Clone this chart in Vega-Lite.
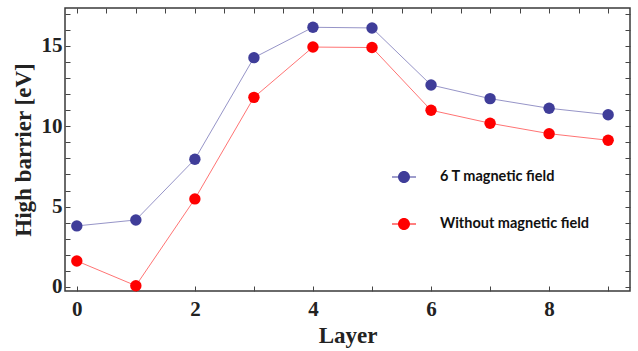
{
  "$schema": "https://vega.github.io/schema/vega-lite/v6.json",
  "width": 565,
  "height": 283,
  "autosize": "none",
  "padding": {"left": 65, "top": 8, "right": 8, "bottom": 60},
  "background": "white",
  "config": {
    "view": {"stroke": "#3a3a3a", "strokeWidth": 1.5},
    "axis": {"grid": false}
  },
  "data": {
    "values": [
      {"layer": 0, "barrier": 3.8, "series": "6 T magnetic field"},
      {"layer": 1, "barrier": 4.17, "series": "6 T magnetic field"},
      {"layer": 2, "barrier": 7.95, "series": "6 T magnetic field"},
      {"layer": 3, "barrier": 14.27, "series": "6 T magnetic field"},
      {"layer": 4, "barrier": 16.16, "series": "6 T magnetic field"},
      {"layer": 5, "barrier": 16.12, "series": "6 T magnetic field"},
      {"layer": 6, "barrier": 12.57, "series": "6 T magnetic field"},
      {"layer": 7, "barrier": 11.72, "series": "6 T magnetic field"},
      {"layer": 8, "barrier": 11.12, "series": "6 T magnetic field"},
      {"layer": 9, "barrier": 10.72, "series": "6 T magnetic field"},
      {"layer": 0, "barrier": 1.62, "series": "Without magnetic field"},
      {"layer": 1, "barrier": 0.08, "series": "Without magnetic field"},
      {"layer": 2, "barrier": 5.48, "series": "Without magnetic field"},
      {"layer": 3, "barrier": 11.8, "series": "Without magnetic field"},
      {"layer": 4, "barrier": 14.93, "series": "Without magnetic field"},
      {"layer": 5, "barrier": 14.9, "series": "Without magnetic field"},
      {"layer": 6, "barrier": 11.0, "series": "Without magnetic field"},
      {"layer": 7, "barrier": 10.19, "series": "Without magnetic field"},
      {"layer": 8, "barrier": 9.54, "series": "Without magnetic field"},
      {"layer": 9, "barrier": 9.13, "series": "Without magnetic field"}
    ]
  },
  "layer": [
    {
      "mark": {"type": "line", "strokeWidth": 1, "opacity": 0.55},
      "encoding": {
        "x": {
          "field": "layer", "type": "quantitative",
          "scale": {"domain": [-0.2, 9.37], "nice": false, "zero": false},
          "axis": {
            "orient": "bottom", "format": "d", "offset": -5,
            "values": [0, 0.5, 1, 1.5, 2, 2.5, 3, 3.5, 4, 4.5, 5, 5.5, 6, 6.5, 7, 7.5, 8, 8.5, 9],
            "labelExpr": "datum.value % 2 === 0 ? datum.label : ''",
            "ticks": true, "tickSize": 5, "tickWidth": 1, "tickColor": "#444", "domain": false,
            "title": "Layer", "titleFont": "Liberation Serif", "titleFontSize": 23, "titleFontWeight": "bold",
            "titleColor": "#222", "titlePadding": 5,
            "labelFont": "Liberation Serif", "labelFontSize": 21, "labelFontWeight": "bold", "labelColor": "#222",
            "labelPadding": 7
          }
        },
        "y": {
          "field": "barrier", "type": "quantitative",
          "scale": {"domain": [-0.25, 17.36], "nice": false, "zero": false},
          "axis": {
            "orient": "left", "format": "d", "offset": -5,
            "values": [0, 1, 2, 3, 4, 5, 6, 7, 8, 9, 10, 11, 12, 13, 14, 15, 16, 17],
            "labelExpr": "datum.value % 5 === 0 ? datum.label : ''",
            "ticks": true, "tickSize": 5, "tickWidth": 1, "tickColor": "#444", "domain": false,
            "title": "High barrier [eV]", "titleFont": "Liberation Serif", "titleFontSize": 23, "titleFontWeight": "bold",
            "titleColor": "#222", "titlePadding": 6,
            "labelFont": "Liberation Serif", "labelFontSize": 21, "labelFontWeight": "bold", "labelColor": "#222",
            "labelPadding": 3
          }
        },
        "stroke": {
          "field": "series", "type": "nominal",
          "scale": {"domain": ["Without magnetic field", "6 T magnetic field"], "range": ["#ff0000", "#3f3d99"]},
          "legend": null
        }
      }
    },
    {
      "mark": {"type": "point", "filled": true, "size": 130, "opacity": 1},
      "encoding": {
        "x": {
          "field": "layer", "type": "quantitative",
          "axis": {
            "orient": "top", "offset": -5, "values": [0, 0.5, 1, 1.5, 2, 2.5, 3, 3.5, 4, 4.5, 5, 5.5, 6, 6.5, 7, 7.5, 8, 8.5, 9],
            "labels": false, "domain": false, "title": "", "ticks": true, "tickColor": "#444", "tickWidth": 1, "tickSize": 5
          }
        },
        "y": {
          "field": "barrier", "type": "quantitative",
          "axis": {
            "orient": "right", "offset": -5, "values": [0, 1, 2, 3, 4, 5, 6, 7, 8, 9, 10, 11, 12, 13, 14, 15, 16, 17],
            "labels": false, "domain": false, "title": "", "ticks": true, "tickColor": "#444", "tickWidth": 1, "tickSize": 5
          }
        },
        "color": {
          "field": "series", "type": "nominal",
          "scale": {"domain": ["6 T magnetic field", "Without magnetic field"], "range": ["#3f3d99", "#ff0000"]},
          "legend": {
            "orient": "none", "legendX": 327, "legendY": 157, "title": null,
            "symbolType": "M-0.5,0A0.5,0.5,0,1,1,0.5,0A0.5,0.5,0,1,1,-0.5,0Z M-1,-0.04H1V0.04H-1Z",
            "symbolSize": 576, "symbolStrokeWidth": 0, "symbolOpacity": 1,
            "labelFont": "Lato", "labelFontSize": 14.5, "labelFontWeight": "bold", "labelColor": "#111",
            "labelOffset": 24, "rowPadding": 28, "labelLimit": 300
          }
        }
      }
    }
  ],
  "resolve": {"axis": {"x": "independent", "y": "independent"}}
}
